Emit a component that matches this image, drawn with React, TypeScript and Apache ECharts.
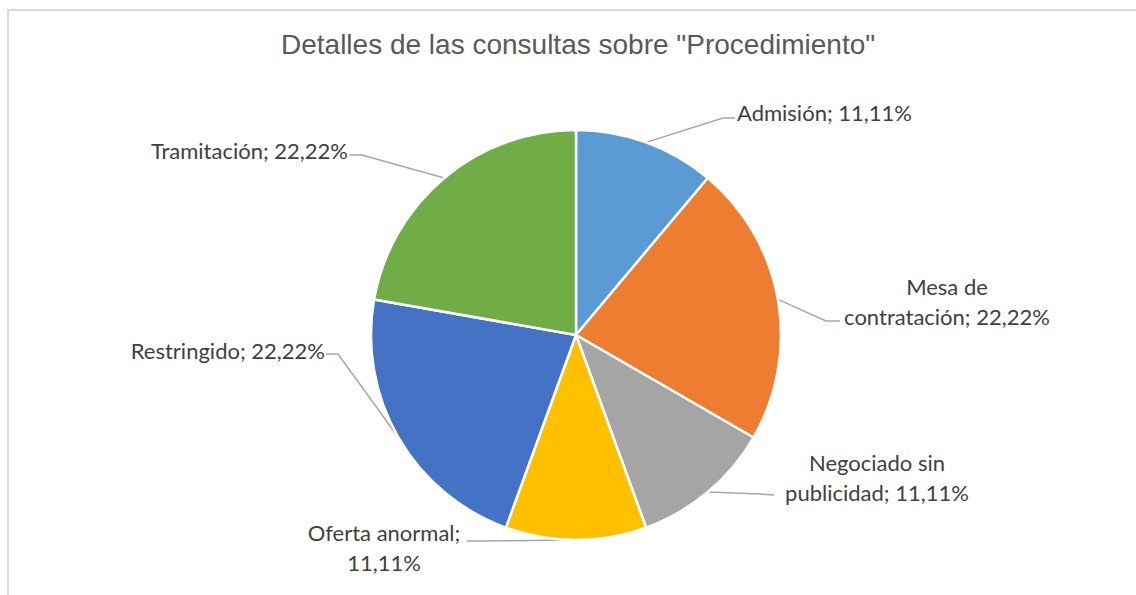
import React, { useEffect, useRef } from "react";
import * as echarts from "echarts";

const titleText = 'Detalles de las consultas sobre "Procedimiento"';
const categories = [
  "Admisión",
  "Mesa de contratación",
  "Negociado sin publicidad",
  "Oferta anormal",
  "Restringido",
  "Tramitación",
];
const values = [1, 2, 1, 1, 2, 2];
const colors = ["#5B9BD5", "#ED7D31", "#A5A5A5", "#FFC000", "#4472C4", "#70AD47"];
// where each label wraps onto a second line (prefix before the break), null = single line
const labelBreakAfter: (string | null)[] = [null, "Mesa de", "Negociado sin", "Oferta anormal;", null, null];

// label placement (layout only)
const labelLayouts = [
  { x: 737, y: 112, align: "left", elbow: [723, 118], end: [735, 118] },
  { x: 947, y: 301, align: "center", elbow: [826, 321], end: [840, 321] },
  { x: 877, y: 477, align: "center", elbow: [760, 494], end: [774, 495] },
  { x: 384, y: 547, align: "center", elbow: [480, 541], end: [467, 541] },
  { x: 325, y: 350, align: "right", elbow: [338, 354], end: [326, 354] },
  { x: 348, y: 150, align: "right", elbow: [362, 155], end: [350, 155] },
];

const total = values.reduce((a, b) => a + b, 0);

export default function App() {
  const ref = useRef<HTMLDivElement>(null);
  useEffect(() => {
    if (!ref.current) return;
    const chart = echarts.init(ref.current, null, { renderer: "svg" });
    chart.setOption({
      animation: false,
      backgroundColor: "#ffffff",
      title: {
        text: titleText,
        left: 281,
        top: 30,
        padding: 0,
        textStyle: {
          fontFamily: "Liberation Sans, Arial, sans-serif",
          fontSize: 28,
          fontWeight: "normal",
          color: "#595959",
        },
      },
      graphic: [
        {
          type: "rect",
          shape: { x: 8, y: 10, width: 1200, height: 700 },
          style: { fill: "none", stroke: "#d9d9d9", lineWidth: 2 },
          silent: true,
        },
      ],
      series: [
        {
          type: "pie",
          center: [576, 335],
          radius: 205,
          startAngle: 90,
          clockwise: true,
          avoidLabelOverlap: false,
          emphasis: { disabled: true },
          itemStyle: { borderColor: "#ffffff", borderWidth: 2.5 },
          label: {
            show: true,
            position: "outside",
            fontFamily: "Lato, sans-serif",
            fontSize: 22,
            lineHeight: 30,
            color: "#404040",
            formatter: (p: any) => {
              const pct = ((p.value / total) * 100).toFixed(2).replace(".", ",") + "%";
              const full = `${p.name}; ${pct}`;
              const br = labelBreakAfter[p.dataIndex];
              if (br) {
                return br + "\n" + full.slice(br.length).trim();
              }
              return full;
            },
          },
          labelLine: {
            show: true,
            smooth: false,
            lineStyle: { color: "#A6A6A6", width: 1.5 },
          },
          labelLayout: (params: any) => {
            const l = labelLayouts[params.dataIndex];
            const p0 = params.labelLinePoints ? params.labelLinePoints[0] : l.elbow;
            return {
              x: l.x,
              y: l.y,
              align: l.align,
              verticalAlign: "middle",
              labelLinePoints: [p0, l.elbow, l.end],
            };
          },
          data: categories.map((c, i) => ({
            name: c,
            value: values[i],
            itemStyle: { color: colors[i] },
          })),
        },
      ],
    });
    return () => chart.dispose();
  }, []);
  return (
    <div
      ref={ref}
      style={{ position: "absolute", left: 0, top: 0, width: 1136, height: 595 }}
    />
  );
}
